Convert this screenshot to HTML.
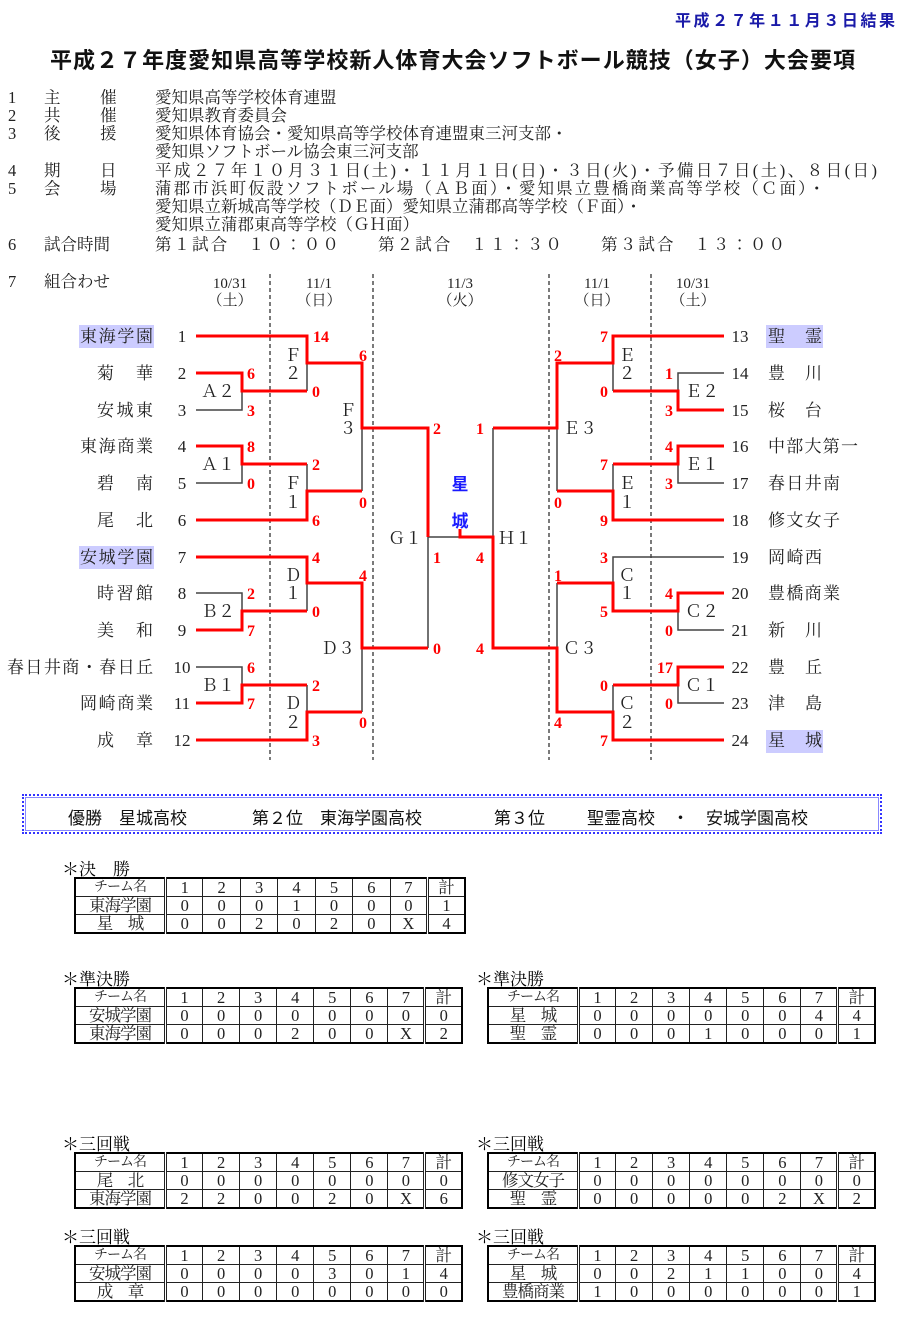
<!DOCTYPE html>
<html><head><meta charset="utf-8">
<style>
body{margin:0;width:900px;height:1330px;background:#fff;position:relative;overflow:hidden;font-family:"Liberation Serif","Noto Serif CJK SC",serif;}
.ab{position:absolute;}
table.s{border-collapse:collapse;border:2px solid #000;font-size:16.5px;line-height:17px;table-layout:fixed;}
table.s td{border:1px solid #222;text-align:center;padding:0;height:17px;color:#222;white-space:nowrap;overflow:hidden;}
table.s td.n{border-right:3px double #222;width:88px;letter-spacing:-1px;}
table.s td.d{border-right:3px double #222;}
table.s td.h{font-size:14px;}
.lbl{font-size:17px;line-height:17px;}
.banner{left:22px;top:794px;width:856px;height:36px;border:2px dotted #33f;outline:1px solid #88f;outline-offset:-4px;font-family:"Liberation Sans","Noto Sans CJK JP",sans-serif;font-size:17px;color:#111;}
</style></head><body>
<svg class="ab" style="left:0;top:0" width="900" height="770" xmlns="http://www.w3.org/2000/svg" font-family="Liberation Serif, Noto Serif CJK JP, serif">
<text x="675" y="26" textLength="220" font-family="Liberation Sans, Noto Sans CJK JP, sans-serif" font-weight="bold" font-size="16" fill="#1a1aa8">平成２７年１１月３日結果</text>
<text x="50" y="68" textLength="805" font-family="Liberation Sans, Noto Sans CJK JP, sans-serif" font-weight="bold" font-size="22" fill="#111">平成２７年度愛知県高等学校新人体育大会ソフトボール競技（女子）大会要項</text>
<g font-size="16.5" fill="#222">
<text x="8" y="103">1</text><text x="44" y="103">主</text><text x="100" y="103">催</text><text x="155" y="103">愛知県高等学校体育連盟</text>
<text x="8" y="121">2</text><text x="44" y="121">共</text><text x="100" y="121">催</text><text x="155" y="121">愛知県教育委員会</text>
<text x="8" y="139">3</text><text x="44" y="139">後</text><text x="100" y="139">援</text><text x="155" y="139">愛知県体育協会・愛知県高等学校体育連盟東三河支部・</text>
<text x="155" y="157">愛知県ソフトボール協会東三河支部</text>
<text x="8" y="176">4</text><text x="44" y="176">期</text><text x="100" y="176">日</text><text x="155" y="176" textLength="722">平成２７年１０月３１日(土)・１１月１日(日)・３日(火)・予備日７日(土)、８日(日)</text>
<text x="8" y="194">5</text><text x="44" y="194">会</text><text x="100" y="194">場</text><text x="155" y="194" textLength="670">蒲郡市浜町仮設ソフトボール場（ＡＢ面）・愛知県立豊橋商業高等学校（Ｃ面）・</text>
<text x="155" y="212">愛知県立新城高等学校（ＤＥ面）愛知県立蒲郡高等学校（Ｆ面）・</text>
<text x="155" y="230">愛知県立蒲郡東高等学校（ＧＨ面）</text>
<text x="8" y="250">6</text><text x="44" y="250">試合時間</text><text x="155" y="250" textLength="630">第１試合　１０：００　　第２試合　１１：３０　　第３試合　１３：００</text>
<text x="8" y="287">7</text><text x="44" y="287">組合わせ</text>
</g>
<g font-size="15" fill="#222" text-anchor="middle">
<text x="230" y="288">10/31</text><text x="230" y="305">（土）</text>
<text x="319" y="288">11/1</text><text x="319" y="305">（日）</text>
<text x="460" y="288">11/3</text><text x="460" y="305">（火）</text>
<text x="597" y="288">11/1</text><text x="597" y="305">（日）</text>
<text x="693" y="288">10/31</text><text x="693" y="305">（土）</text>
</g>
<g stroke="#222" stroke-width="1.2" stroke-dasharray="4,3">
<line x1="270" y1="274" x2="270" y2="760"/><line x1="373" y1="274" x2="373" y2="760"/>
<line x1="549" y1="274" x2="549" y2="760"/><line x1="651" y1="274" x2="651" y2="760"/>
</g>
<g fill="#ccccff">
<rect x="79" y="325" width="75" height="23"/><rect x="79" y="546" width="75" height="23"/>
<rect x="766" y="325" width="57" height="23"/><rect x="766" y="730" width="57" height="23"/>
</g>
<g fill="none" stroke="#444" stroke-width="1.5">
<path d="M196 410H242V391M307 363V391M196 483H242V464M307 464V491M362 428V491M428 537V648M428 537H460M196 593H242V611M307 583V611M362 648V712M196 667H242V685M307 685V712"/>
<path d="M724 373H678V391M613 363V391M724 483H678V464M613 464V491M557 428V491M493 428V537M613 583V557H724M724 630H678V611M557 583V648M724 703H678V685M613 685V712"/>
</g>
<g fill="none" stroke="#f00" stroke-width="3">
<path d="M196 336H307V363H362V428H428V537"/>
<path d="M196 373H242V391H307M196 446H242V464H307M196 520H307V491H362M196 557H307V583H362V648H428M196 630H242V611H307M196 703H242V685H307M196 740H307V712H362"/>
<path d="M724 336H613V363H557V428H493M724 410H678V391H613M724 446H678V464H613M724 520H613V491H557"/>
<path d="M460 529V537H493V648H557V712H613V740H724M557 583H613V611H678V593H724M724 667H678V685H613"/>
</g>
<g font-size="17" fill="#222">
<g text-anchor="end">
<text x="153" y="342" textLength="73">東海学園</text><text x="153" y="379" textLength="56">菊　華</text><text x="153" y="416" textLength="56">安城東</text><text x="153" y="452" textLength="73">東海商業</text><text x="153" y="489" textLength="56">碧　南</text><text x="153" y="526" textLength="56">尾　北</text><text x="153" y="563" textLength="73">安城学園</text><text x="153" y="599" textLength="56">時習館</text><text x="153" y="636" textLength="56">美　和</text><text x="153" y="673" textLength="146">春日井商・春日丘</text><text x="153" y="709" textLength="73">岡崎商業</text><text x="153" y="746" textLength="56">成　章</text>
</g>
<g text-anchor="middle">
<text x="182" y="342">1</text><text x="182" y="379">2</text><text x="182" y="416">3</text><text x="182" y="452">4</text><text x="182" y="489">5</text><text x="182" y="526">6</text><text x="182" y="563">7</text><text x="182" y="599">8</text><text x="182" y="636">9</text><text x="182" y="673">10</text><text x="182" y="709">11</text><text x="182" y="746">12</text>
<text x="740" y="342">13</text><text x="740" y="379">14</text><text x="740" y="416">15</text><text x="740" y="452">16</text><text x="740" y="489">17</text><text x="740" y="526">18</text><text x="740" y="563">19</text><text x="740" y="599">20</text><text x="740" y="636">21</text><text x="740" y="673">22</text><text x="740" y="709">23</text><text x="740" y="746">24</text>
</g>
<text x="768" y="342" textLength="54">聖　霊</text><text x="768" y="379" textLength="54">豊　川</text><text x="768" y="416" textLength="54">桜　台</text><text x="768" y="452" textLength="90">中部大第一</text><text x="768" y="489" textLength="72">春日井南</text><text x="768" y="526" textLength="72">修文女子</text><text x="768" y="563" textLength="54">岡崎西</text><text x="768" y="599" textLength="72">豊橋商業</text><text x="768" y="636" textLength="54">新　川</text><text x="768" y="673" textLength="54">豊　丘</text><text x="768" y="709" textLength="54">津　島</text><text x="768" y="746" textLength="54">星　城</text>
<g text-anchor="middle">
<text x="218" y="397">Ａ２</text><text x="218" y="470">Ａ１</text><text x="218" y="617">Ｂ２</text><text x="218" y="691">Ｂ１</text>
<text x="293" y="361">Ｆ</text><text x="293" y="379">２</text><text x="293" y="489">Ｆ</text><text x="293" y="508">１</text>
<text x="293" y="581">Ｄ</text><text x="293" y="599">１</text><text x="293" y="709">Ｄ</text><text x="293" y="728">２</text>
<text x="348" y="416">Ｆ</text><text x="348" y="434">３</text><text x="338" y="654">Ｄ３</text><text x="405" y="544">Ｇ１</text>
<text x="515" y="544">Ｈ１</text><text x="580" y="434">Ｅ３</text><text x="580" y="654">Ｃ３</text>
<text x="627" y="361">Ｅ</text><text x="627" y="379">２</text><text x="627" y="489">Ｅ</text><text x="627" y="508">１</text>
<text x="627" y="581">Ｃ</text><text x="627" y="599">１</text><text x="627" y="709">Ｃ</text><text x="627" y="728">２</text>
<text x="702" y="397">Ｅ２</text><text x="702" y="470">Ｅ１</text><text x="702" y="617">Ｃ２</text><text x="702" y="691">Ｃ１</text>
</g>
</g>
<g font-size="16" font-weight="bold" fill="#f00" text-anchor="middle">
<text x="321" y="342">14</text><text x="251" y="379">6</text><text x="251" y="416">3</text><text x="316" y="397">0</text><text x="363" y="361">6</text>
<text x="251" y="452">8</text><text x="251" y="489">0</text><text x="316" y="470">2</text><text x="316" y="526">6</text><text x="363" y="508">0</text>
<text x="437" y="434">2</text><text x="437" y="563">1</text><text x="437" y="654">0</text>
<text x="316" y="563">4</text><text x="251" y="599">2</text><text x="251" y="636">7</text><text x="316" y="617">0</text><text x="363" y="581">4</text>
<text x="251" y="673">6</text><text x="251" y="709">7</text><text x="316" y="691">2</text><text x="316" y="746">3</text><text x="363" y="728">0</text>
<text x="604" y="342">7</text><text x="669" y="379">1</text><text x="669" y="416">3</text><text x="604" y="397">0</text><text x="558" y="361">2</text>
<text x="669" y="452">4</text><text x="669" y="489">3</text><text x="604" y="470">7</text><text x="604" y="526">9</text><text x="558" y="508">0</text>
<text x="480" y="434">1</text><text x="480" y="563">4</text><text x="480" y="654">4</text>
<text x="604" y="563">3</text><text x="558" y="581">1</text><text x="669" y="599">4</text><text x="669" y="636">0</text><text x="604" y="617">5</text>
<text x="665" y="673">17</text><text x="669" y="709">0</text><text x="604" y="691">0</text><text x="604" y="746">7</text><text x="558" y="728">4</text>
</g>
<g font-size="17" font-weight="bold" fill="#1a1aff" text-anchor="middle" font-family="Liberation Sans, Noto Sans CJK JP, sans-serif">
<text x="460" y="490">星</text><text x="460" y="527">城</text>
</g>
</svg>

<div class="ab banner"><span class="ab" style="left:44px;top:8px">優勝　星城高校</span><span class="ab" style="left:228px;top:8px">第２位　東海学園高校</span><span class="ab" style="left:470px;top:8px">第３位</span><span class="ab" style="left:563px;top:8px">聖霊高校　・　安城学園高校</span></div>

<div class="ab lbl" style="left:62px;top:861px">＊決　勝</div>
<table class="s ab" style="left:74px;top:877px;width:392px"><tr><td class="n h">チーム名</td><td>1</td><td>2</td><td>3</td><td>4</td><td>5</td><td>6</td><td class="d">7</td><td>計</td></tr>
<tr><td class="n">東海学園</td><td>0</td><td>0</td><td>0</td><td>1</td><td>0</td><td>0</td><td class="d">0</td><td>1</td></tr>
<tr><td class="n">星　城</td><td>0</td><td>0</td><td>2</td><td>0</td><td>2</td><td>0</td><td class="d">X</td><td>4</td></tr></table>

<div class="ab lbl" style="left:62px;top:971px">＊準決勝</div>
<table class="s ab" style="left:74px;top:987px;width:389px"><tr><td class="n h">チーム名</td><td>1</td><td>2</td><td>3</td><td>4</td><td>5</td><td>6</td><td class="d">7</td><td>計</td></tr>
<tr><td class="n">安城学園</td><td>0</td><td>0</td><td>0</td><td>0</td><td>0</td><td>0</td><td class="d">0</td><td>0</td></tr>
<tr><td class="n">東海学園</td><td>0</td><td>0</td><td>0</td><td>2</td><td>0</td><td>0</td><td class="d">X</td><td>2</td></tr></table>

<div class="ab lbl" style="left:476px;top:971px">＊準決勝</div>
<table class="s ab" style="left:487px;top:987px;width:389px"><tr><td class="n h">チーム名</td><td>1</td><td>2</td><td>3</td><td>4</td><td>5</td><td>6</td><td class="d">7</td><td>計</td></tr>
<tr><td class="n">星　城</td><td>0</td><td>0</td><td>0</td><td>0</td><td>0</td><td>0</td><td class="d">4</td><td>4</td></tr>
<tr><td class="n">聖　霊</td><td>0</td><td>0</td><td>0</td><td>1</td><td>0</td><td>0</td><td class="d">0</td><td>1</td></tr></table>

<div class="ab lbl" style="left:62px;top:1136px">＊三回戦</div>
<table class="s ab" style="left:74px;top:1152px;width:389px"><tr><td class="n h">チーム名</td><td>1</td><td>2</td><td>3</td><td>4</td><td>5</td><td>6</td><td class="d">7</td><td>計</td></tr>
<tr><td class="n">尾　北</td><td>0</td><td>0</td><td>0</td><td>0</td><td>0</td><td>0</td><td class="d">0</td><td>0</td></tr>
<tr><td class="n">東海学園</td><td>2</td><td>2</td><td>0</td><td>0</td><td>2</td><td>0</td><td class="d">X</td><td>6</td></tr></table>

<div class="ab lbl" style="left:476px;top:1136px">＊三回戦</div>
<table class="s ab" style="left:487px;top:1152px;width:389px"><tr><td class="n h">チーム名</td><td>1</td><td>2</td><td>3</td><td>4</td><td>5</td><td>6</td><td class="d">7</td><td>計</td></tr>
<tr><td class="n">修文女子</td><td>0</td><td>0</td><td>0</td><td>0</td><td>0</td><td>0</td><td class="d">0</td><td>0</td></tr>
<tr><td class="n">聖　霊</td><td>0</td><td>0</td><td>0</td><td>0</td><td>0</td><td>2</td><td class="d">X</td><td>2</td></tr></table>

<div class="ab lbl" style="left:62px;top:1229px">＊三回戦</div>
<table class="s ab" style="left:74px;top:1245px;width:389px"><tr><td class="n h">チーム名</td><td>1</td><td>2</td><td>3</td><td>4</td><td>5</td><td>6</td><td class="d">7</td><td>計</td></tr>
<tr><td class="n">安城学園</td><td>0</td><td>0</td><td>0</td><td>0</td><td>3</td><td>0</td><td class="d">1</td><td>4</td></tr>
<tr><td class="n">成　章</td><td>0</td><td>0</td><td>0</td><td>0</td><td>0</td><td>0</td><td class="d">0</td><td>0</td></tr></table>

<div class="ab lbl" style="left:476px;top:1229px">＊三回戦</div>
<table class="s ab" style="left:487px;top:1245px;width:389px"><tr><td class="n h">チーム名</td><td>1</td><td>2</td><td>3</td><td>4</td><td>5</td><td>6</td><td class="d">7</td><td>計</td></tr>
<tr><td class="n">星　城</td><td>0</td><td>0</td><td>2</td><td>1</td><td>1</td><td>0</td><td class="d">0</td><td>4</td></tr>
<tr><td class="n">豊橋商業</td><td>1</td><td>0</td><td>0</td><td>0</td><td>0</td><td>0</td><td class="d">0</td><td>1</td></tr></table>
</body></html>
